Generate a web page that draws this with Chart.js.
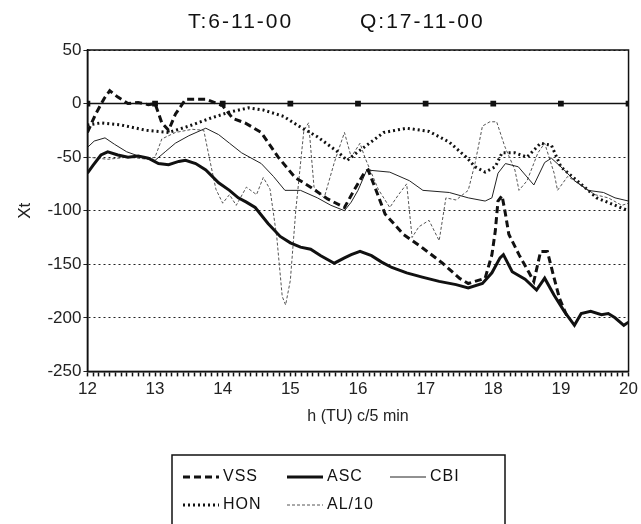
<!DOCTYPE html>
<html lang="es">
<head>
<meta charset="UTF-8">
<title>T:6-11-00 Q:17-11-00</title>
<script src="https://cdn.jsdelivr.net/npm/chart.js"></script>
<style>
  body { margin: 0; background: #fff; }
  #wrap { width: 641px; height: 524px; }
</style>
</head>
<body>
<div id="wrap"><canvas id="xtChart"></canvas></div>
<script>
// titulos
const titleLeft = "T:6-11-00";
const titleRight = "Q:17-11-00";
const yTicks = [50, 0, -50, -100, -150, -200, -250];
const xHours = [12, 13, 14, 15, 16, 17, 18, 19, 20];
const minutesStep = 5;

// VSS
const vssHours = [12.0,12.12,12.25,12.33,12.45,12.6,12.75,12.9,13.0,13.1,13.2,13.3,13.45,13.75,14.0,14.15,14.33,14.57,14.82,15.07,15.3,15.55,15.8,15.95,16.1,16.15,16.25,16.4,16.67,16.96,17.25,17.5,17.63,17.88,17.98,18.03,18.07,18.13,18.18,18.23,18.38,18.53,18.6,18.7,18.8,18.9,18.98,19.1];
const vssValues = [-27,-10,5,12,6,0,1,-1,0,-18,-25,-10,4,4,-2,-14,-18,-27,-50,-69,-78,-89,-97,-80,-64,-62,-78,-103,-122,-135,-149,-163,-168,-163,-141,-119,-91,-86,-103,-122,-141,-158,-166,-138,-138,-163,-182,-200];

// ASC
const ascHours = [12.0,12.08,12.2,12.3,12.45,12.6,12.75,12.9,13.05,13.2,13.35,13.45,13.6,13.75,13.94,14.1,14.23,14.35,14.48,14.67,14.85,15.0,15.15,15.3,15.45,15.65,15.8,15.9,16.03,16.2,16.35,16.5,16.72,16.95,17.2,17.45,17.63,17.84,17.98,18.1,18.15,18.28,18.47,18.64,18.76,18.9,19.05,19.2,19.3,19.44,19.6,19.7,19.8,19.93,20.0];
const ascValues = [-65,-58,-48,-45,-48,-50,-49,-51,-56,-57,-54,-53,-56,-62,-74,-81,-88,-92,-97,-112,-124,-130,-134,-136,-142,-149,-144,-141,-138,-142,-148,-153,-158,-162,-166,-169,-172,-168,-158,-144,-141,-157,-164,-174,-163,-179,-194,-207,-196,-194,-197,-196,-200,-207,-204];

// CBI
const cbiHours = [12.0,12.1,12.26,12.4,12.58,12.8,13.0,13.15,13.3,13.5,13.75,13.94,14.1,14.28,14.57,14.75,14.92,15.15,15.4,15.6,15.8,15.9,16.0,16.13,16.47,16.76,16.96,17.35,17.63,17.88,17.98,18.07,18.18,18.37,18.6,18.76,18.86,19.05,19.2,19.4,19.63,19.8,20.0];
const cbiValues = [-41,-35,-32,-38,-45,-50,-53,-45,-37,-30,-23,-29,-37,-46,-56,-68,-81,-81,-88,-95,-100,-92,-81,-62,-64,-72,-81,-83,-88,-91,-88,-65,-56,-59,-76,-55,-51,-62,-72,-81,-83,-88,-91];

// HON
const honHours = [12.0,12.2,12.5,12.87,13.2,13.5,13.85,14.1,14.38,14.6,14.9,15.15,15.4,15.7,15.84,16.0,16.17,16.38,16.72,17.05,17.35,17.6,17.73,17.88,18.03,18.13,18.32,18.5,18.7,18.86,19.0,19.24,19.53,19.88,20.0];
const honValues = [-20,-18,-20,-25,-27,-21,-13,-8,-4,-6,-12,-22,-31,-45,-53,-45,-37,-27,-23,-26,-36,-50,-59,-64,-59,-46,-46,-50,-37,-39,-59,-72,-88,-97,-100];

// AL/10
const alHours = [12.0,12.3,12.6,12.9,13.0,13.1,13.3,13.55,13.72,13.8,13.9,14.0,14.1,14.2,14.35,14.5,14.6,14.7,14.8,14.88,14.93,15.0,15.08,15.2,15.27,15.35,15.5,15.65,15.8,15.9,16.03,16.1,16.3,16.47,16.6,16.72,16.8,16.9,17.05,17.2,17.3,17.45,17.63,17.73,17.84,17.95,18.05,18.17,18.32,18.38,18.5,18.66,18.76,18.9,18.95,19.1,19.3,19.5,19.7,19.9,20.0];
const alValues = [-50,-52,-50,-52,-50,-33,-27,-24,-25,-50,-80,-93,-85,-95,-78,-85,-69,-80,-125,-180,-188,-165,-100,-25,-18,-78,-88,-55,-27,-50,-37,-50,-80,-97,-85,-75,-125,-115,-109,-128,-88,-90,-81,-56,-21,-17,-17,-40,-62,-81,-72,-46,-37,-65,-81,-68,-76,-85,-88,-95,-93];

const pts = (hs, vs) => hs.map((h, i) => ({ x: h, y: vs[i] }));
const FONT = '"Liberation Sans", Arial, sans-serif';

// recuadro, titulo y leyenda
const extras = {
  id: "extras",
  afterDatasetsDraw(chart) {
    const { ctx, chartArea: a } = chart;
    ctx.save();
    ctx.strokeStyle = "#111";
    ctx.lineWidth = 1.5;
    ctx.strokeRect(a.left, a.top, a.right - a.left, a.bottom - a.top);
    ctx.restore();
  },
  afterDraw(chart) {
    const ctx = chart.ctx;
    ctx.save();
    ctx.fillStyle = "#111";
    ctx.textBaseline = "middle";
    ctx.font = "21px " + FONT;
    ctx.letterSpacing = "2px";
    ctx.fillText(titleLeft, 188, 22);
    ctx.fillText(titleRight, 360, 22);

    ctx.strokeStyle = "#111";
    ctx.lineWidth = 1.5;
    ctx.strokeRect(172, 455, 333, 90);

    const slots = [[183, 477], [287, 477], [390, 477], [183, 505], [287, 505]];
    ctx.font = "16px " + FONT;
    ctx.letterSpacing = "1px";
    chart.data.datasets.slice(0, 5).forEach((ds, i) => {
      const [x, y] = slots[i];
      ctx.beginPath();
      ctx.setLineDash(ds.borderDash || []);
      ctx.lineWidth = ds.borderWidth;
      ctx.strokeStyle = ds.borderColor;
      ctx.moveTo(x, y);
      ctx.lineTo(x + 36, y);
      ctx.stroke();
      ctx.setLineDash([]);
      ctx.fillText(ds.label, x + 40, y);
    });
    ctx.restore();
  }
};

const ctx = document.getElementById("xtChart").getContext("2d");
new Chart(ctx, {
  type: "line",
  data: {
    datasets: [
      { label: "VSS", data: pts(vssHours, vssValues), borderColor: "#111", borderWidth: 3, borderDash: [7, 4] },
      { label: "ASC", data: pts(ascHours, ascValues), borderColor: "#111", borderWidth: 3 },
      { label: "CBI", data: pts(cbiHours, cbiValues), borderColor: "#222", borderWidth: 1 },
      { label: "HON", data: pts(honHours, honValues), borderColor: "#111", borderWidth: 3, borderDash: [2, 3] },
      { label: "AL/10", data: pts(alHours, alValues), borderColor: "#555", borderWidth: 1, borderDash: [3, 2] },
      {
        label: "cero",
        data: xHours.map(h => ({ x: h, y: 0 })),
        borderColor: "#111", borderWidth: 1.5,
        pointStyle: "rect", pointRadius: 3, pointBackgroundColor: "#111"
      }
    ]
  },
  options: {
    responsive: true,
    maintainAspectRatio: false,
    animation: false,
    elements: { point: { radius: 0 }, line: { tension: 0 } },
    layout: { padding: { top: 50, left: 15, right: 4, bottom: 98 } },
    plugins: { legend: { display: false }, tooltip: { enabled: false } },
    scales: {
      x: {
        type: "linear",
        min: 12, max: 20,
        // marcas cada 5 minutos
        afterBuildTicks: axis => {
          const ticks = [];
          for (let m = 0; m <= 8 * 60; m += minutesStep) ticks.push({ value: 12 + m / 60 });
          axis.ticks = ticks;
        },
        ticks: {
          autoSkip: false,
          maxRotation: 0,
          color: "#222",
          padding: 3,
          font: { size: 17, family: FONT },
          callback: v => (Math.abs(v - Math.round(v)) < 1e-6 ? Math.round(v) : "")
        },
        grid: { drawOnChartArea: false, drawTicks: true, tickLength: 5, tickWidth: 1.5, tickColor: "#111", color: "#111" },
        border: { color: "#111", width: 1.5 },
        title: {
          display: true,
          text: "h (TU) c/5 min",
          color: "#222",
          padding: { top: 4, bottom: 0 },
          font: { size: 16, family: FONT }
        }
      },
      y: {
        min: -250, max: 50,
        afterBuildTicks: axis => { axis.ticks = yTicks.map(v => ({ value: v })); },
        ticks: {
          color: "#222",
          padding: 2,
          font: { size: 17, family: FONT }
        },
        grid: { color: "#222", lineWidth: 1, tickLength: 4 },
        border: { color: "#111", width: 1.5, dash: [2, 3] },
        title: {
          display: true,
          text: "Xt",
          color: "#222",
          padding: { top: 0, bottom: 10 },
          font: { size: 17, family: FONT }
        }
      }
    }
  },
  plugins: [extras]
});
</script>
</body>
</html>
